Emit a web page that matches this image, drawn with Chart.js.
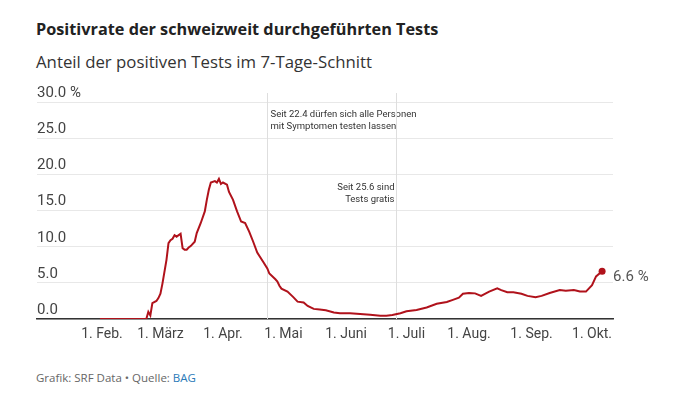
<!DOCTYPE html>
<html>
<head>
<meta charset="utf-8">
<script src="https://cdn.jsdelivr.net/npm/chart.js@4"></script>
<style>
html,body{margin:0;padding:0;background:#fff;}
body{width:680px;height:405px;position:relative;overflow:hidden;font-family:"Open Sans",Roboto,sans-serif;}
#title{position:absolute;left:36px;top:19px;font-size:16.25px;font-weight:700;color:#222;white-space:nowrap;line-height:20px;}
#subtitle{position:absolute;left:36px;top:52px;font-size:16.8px;font-weight:400;color:#333;white-space:nowrap;line-height:20px;}
#footer{position:absolute;left:36px;top:370px;font-size:11.5px;color:#666;white-space:nowrap;line-height:16px;}
#footer span{color:#2a7ab8;}
canvas{position:absolute;left:0;top:0;}
</style>
</head>
<body>
<div id="title">Positivrate der schweizweit durchgeführten Tests</div>
<div id="subtitle">Anteil der positiven Tests im 7-Tage-Schnitt</div>
<div id="footer">Grafik: SRF Data • Quelle: <span>BAG</span></div>
<canvas id="c" width="680" height="405"></canvas>
<script>
// ---- data (2020) ----
const dates = [
 "01-31","02-23","02-24","02-25","02-26","02-28","02-29","03-01","03-02","03-04",
 "03-05","03-06","03-07","03-08","03-09","03-11","03-12","03-13","03-14","03-15",
 "03-16","03-18","03-19","03-21","03-23","03-24","03-25","03-26","03-28","03-29",
 "03-30","03-31","04-01","04-03","04-04","04-06","04-08","04-10","04-12","04-14",
 "04-16","04-18","04-21","04-23","04-24","04-27","04-28","04-29","04-30","05-03",
 "05-06","05-08","05-11","05-13","05-16","05-19","05-22","05-26","05-29","06-03",
 "06-08","06-13","06-18","06-21","06-24","06-28","07-01","07-06","07-11","07-16",
 "07-21","07-24","07-27","07-29","08-01","08-04","08-07","08-11","08-15","08-17",
 "08-20","08-23","08-27","08-30","09-03","09-06","09-10","09-15","09-18","09-22",
 "09-25","09-28","10-01","10-03","10-06"
];
const positivity = [
 0,0,1.0,0.5,2.2,2.5,2.9,3.5,4.9,8.2,
 10.5,10.9,11.1,11.6,11.4,11.8,9.8,9.6,9.6,9.9,
 10.1,10.7,11.9,13.3,14.9,16.5,17.9,18.9,19.1,18.9,
 19.4,18.7,18.9,18.6,17.6,16.5,14.9,13.5,13.3,12.1,
 10.7,9.2,7.9,7.0,6.3,5.5,5.2,4.6,4.2,3.8,
 3.0,2.4,2.3,1.8,1.4,1.3,1.2,0.9,0.8,0.8,
 0.7,0.6,0.46,0.46,0.55,0.8,1.07,1.25,1.6,2.1,
 2.35,2.65,2.95,3.5,3.6,3.55,3.2,3.8,4.25,4.0,
 3.7,3.7,3.5,3.2,3.0,3.2,3.6,4.0,3.9,4.0,
 3.8,3.8,4.7,5.9,6.6
];
const monthTickDates = ["02-01","03-01","04-01","05-01","06-01","07-01","08-01","09-01","10-01"];
const monthTickLabels = ["1. Feb.","1. März","1. Apr.","1. Mai","1. Juni","1. Juli","1. Aug.","1. Sep.","1. Okt."];
const yTicks = [0,5,10,15,20,25,30];
const annotationLineDates = ["04-23","06-26"];
const annotationTexts = [
 ["Seit 22.4 dürfen sich alle Personen","mit Symptomen testen lassen"],
 ["Seit 25.6 sind","Tests gratis"]
];
const lastLabel = "6.6 %";

// ---- helpers ----
function dayOf(md){
 const [m,d] = md.split("-").map(Number);
 return (Date.UTC(2020,m-1,d) - Date.UTC(2020,0,1)) / 864e5;
}
const points = dates.map((d,i)=>({x:dayOf(d), y:positivity[i]}));
const tickDays = monthTickDates.map(dayOf);
const RED = "#b0121b";

const overlay = {
 id:"overlay",
 beforeDatasetsDraw(chart){
  const {ctx, chartArea, scales:{x}} = chart;
  ctx.save();
  annotationLineDates.forEach((d,i)=>{
   const px = Math.round(x.getPixelForValue(dayOf(d))) + 0.5;
   ctx.strokeStyle = "#dedede";
   ctx.lineWidth = 1;
   ctx.beginPath();
   ctx.moveTo(px, chartArea.top);
   ctx.lineTo(px, chartArea.bottom);
   ctx.stroke();
   ctx.fillStyle = "#333";
   ctx.font = "9.5px Roboto";
   ctx.textBaseline = "middle";
   const lines = annotationTexts[i];
   if(i===0){
    ctx.textAlign = "left";
    lines.forEach((t,k)=>ctx.fillText(t, px+3, chartArea.top+22+k*12));
   } else {
    ctx.textAlign = "right";
    lines.forEach((t,k)=>ctx.fillText(t, px-2, chartArea.top+95+k*12));
   }
  });
  ctx.restore();
 },
 afterDatasetsDraw(chart){
  const {ctx} = chart;
  const meta = chart.getDatasetMeta(0);
  const p = meta.data[meta.data.length-1];
  ctx.save();
  ctx.fillStyle = "#555";
  ctx.font = "15px Roboto";
  ctx.textAlign = "left";
  ctx.textBaseline = "middle";
  ctx.fillText(lastLabel, p.x+11, p.y+6);
  ctx.restore();
 }
};

new Chart(document.getElementById("c"), {
 type:"line",
 data:{datasets:[{
  data:points,
  borderColor:RED,
  backgroundColor:RED,
  borderWidth:2,
  tension:0,
  pointRadius:(c)=>c.dataIndex===points.length-1?3.5:0,
  pointHoverRadius:0,
  pointBackgroundColor:RED,
  pointBorderWidth:0
 }]},
 options:{
  responsive:false,
  animation:false,
  events:[],
  layout:{padding:{left:37,right:67,top:93,bottom:56}},
  plugins:{legend:{display:false},tooltip:{enabled:false}},
  scales:{
   x:{
    type:"linear",
    min:-1.2, max:284.4,
    afterBuildTicks:(s)=>{ s.ticks = tickDays.map(v=>({value:v})); },
    afterFit:(s)=>{ s.height = 30; },
    grid:{display:false, drawTicks:false},
    border:{display:true, color:"#333", width:1.5},
    ticks:{
     autoSkip:false, maxRotation:0, padding:7,
     color:"#444", font:{family:"Roboto", size:14},
     callback:(v)=>{ const i = tickDays.indexOf(v); return i>=0?monthTickLabels[i]:""; }
    }
   },
   y:{
    type:"linear",
    min:0, max:31.3,
    afterBuildTicks:(s)=>{ s.ticks = yTicks.map(v=>({value:v})); },
    afterFit:(s)=>{ s.width = 0; },
    grid:{color:"#e8e8e8", drawTicks:false, lineWidth:1},
    border:{display:false},
    ticks:{
     mirror:true, padding:0, labelOffset:-9,
     color:"#444", font:{family:"Roboto", size:15},
     callback:(v)=> v===30 ? v.toFixed(1)+" %" : v.toFixed(1)
    }
   }
  }
 },
 plugins:[overlay]
});
</script>
</body>
</html>
